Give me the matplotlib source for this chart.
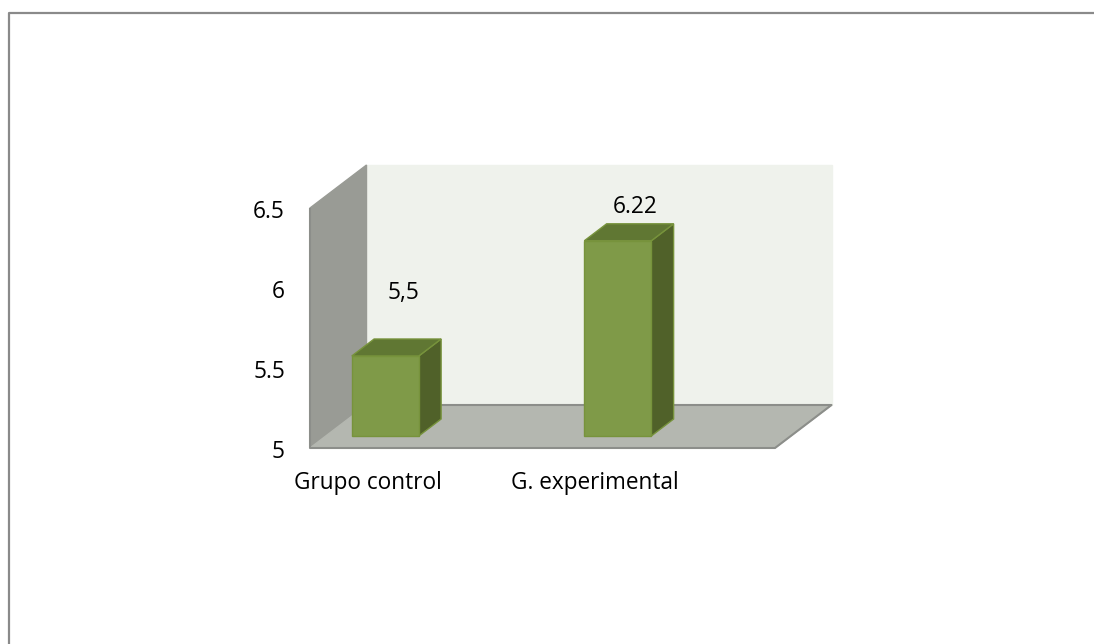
import matplotlib
matplotlib.use("Agg")
import matplotlib.pyplot as plt
from matplotlib.lines import Line2D

# --- data ---
categories = ["Grupo control", "G. experimental"]
values = [5.5, 6.22]
value_labels = ["5,5", "6.22"]
y_ticks = [5, 5.5, 6, 6.5]
y_tick_labels = ["5", "5.5", "6", "6.5"]

# --- style ---
W, H = 1094, 644
plt.rcParams['font.family'] = ['Open Sans', 'DejaVu Sans']
font_size = 16.3
bar_face = '#7f9a48'
bar_edge = '#77933c'
bar_top = '#607733'
bar_side = '#506129'
wall_back = '#eff2ec'
wall_side = '#999b95'
wall_floor = '#b4b7b0'
edge_grey = '#8c8e8a'

fig = plt.figure(figsize=(W / 100, H / 100), dpi=100)
fig.patch.set_facecolor('white')

# outer frame: only the top and left edges are inside the crop
frame_x = 8.5 / W
frame_y = 1 - 12.5 / H
fig.add_artist(Line2D([frame_x, frame_x, 1], [0, frame_y, frame_y], transform=fig.transFigure,
                      color='#8a8a8a', linewidth=1.6))

# front plane of the 3D box: x 310..775 px, y 448..208 px
ax = fig.add_axes([310 / W, 1 - 448 / H, 465 / W, 240 / H])
ax.set_xlim(-0.256, 1.744)
ax.set_ylim(5, 6.5)
ax.axis('off')

# oblique depth, in data units (one unit of depth = full floor depth)
x_per_px = 2.0 / 465
y_per_px = 1.5 / 240
depth_x = 56.5 * x_per_px
depth_y = 43 * y_per_px


def proj(x, y, d):
    return x + d * depth_x, y + d * depth_y


def face(points, color, edge=None, lw=1.0, zorder=1):
    xs = [proj(*p)[0] for p in points]
    ys = [proj(*p)[1] for p in points]
    ax.fill(xs, ys, facecolor=color, edgecolor=edge if edge else color, linewidth=lw,
            clip_on=False, joinstyle='miter', zorder=zorder)


x0, x1 = ax.get_xlim()
y0, y1 = ax.get_ylim()

# walls and floor
face([(x0, y0, 1), (x1, y0, 1), (x1, y1, 1), (x0, y1, 1)], wall_back, zorder=0.1)
face([(x0, y0, 0), (x0, y0, 1), (x0, y1, 1), (x0, y1, 0)], wall_side, zorder=0.1)
face([(x0, y0, 0), (x1, y0, 0), (x1, y0, 1), (x0, y0, 1)], wall_floor, zorder=0.1)
outline = [(x0, y0, 1), (x1, y0, 1), (x1, y0, 0), (x0, y0, 0), (x0, y1, 0)]
ax.plot([proj(*p)[0] for p in outline], [proj(*p)[1] for p in outline],
        color=edge_grey, linewidth=1.5, clip_on=False, solid_capstyle='butt', zorder=0.2)

# bars: front face plus the two visible faces
bar_w = 67 * x_per_px
d_front = 12 / 43
d_back = 29 / 43
for i, v in enumerate(values):
    left = i - bar_w / 2
    right = i + bar_w / 2
    face([(right, y0, d_front), (right, y0, d_back), (right, v, d_back), (right, v, d_front)], bar_side, bar_edge)
    face([(left, v, d_front), (right, v, d_front), (right, v, d_back), (left, v, d_back)], bar_top, bar_edge)
    fx, fy = proj(i, y0, d_front)
    ax.bar(fx, v - y0, width=bar_w, bottom=fy, color=bar_face, edgecolor=bar_edge, linewidth=1.0, clip_on=False)

# tick labels
for t, s in zip(y_ticks, y_tick_labels):
    ax.annotate(s, (x0, t), xytext=(-25, -4), textcoords='offset pixels', ha='right', va='center',
                fontsize=font_size, color='black', annotation_clip=False)
cat_offsets = [-2, -7]
for i, s in enumerate(categories):
    ax.annotate(s, (i, y0), xytext=(cat_offsets[i], -35), textcoords='offset pixels', ha='center', va='center',
                fontsize=font_size, color='black', annotation_clip=False)

# value labels
label_offsets = [(18, 63), (17, 34)]
for i, (v, s) in enumerate(zip(values, value_labels)):
    fx, fy = proj(i, v, d_front)
    ax.annotate(s, (fx, fy), xytext=label_offsets[i], textcoords='offset pixels', ha='center', va='center',
                fontsize=font_size, color='black', annotation_clip=False)

fig.savefig("out.png", dpi=100)
